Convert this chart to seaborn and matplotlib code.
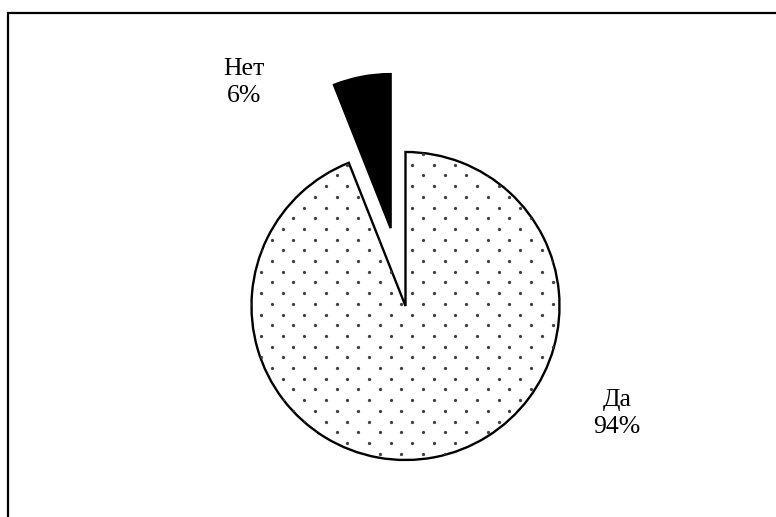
import numpy as np
import matplotlib
matplotlib.use("Agg")
import matplotlib.pyplot as plt
from matplotlib.patches import Rectangle
import seaborn as sns

# Survey answers and their shares (%)
categories = ["Да", "Нет"]
shares = [94, 6]
explode = [0.0, 0.515]
fills = ["white", "black"]

sns.set_theme(style="white")
plt.rcParams["font.family"] = ["Liberation Serif", "DejaVu Serif"]

W, H, DPI = 776, 517, 100
R = 154.0                 # pie radius in pixels
CX, CY = 405.5, 306.0     # pie centre in pixels (from top-left)

fig = plt.figure(figsize=(W / DPI, H / DPI), dpi=DPI, facecolor="white")
ax = fig.add_axes([0, 0, 1, 1])

wedges, _ = ax.pie(
    shares,
    explode=explode,
    colors=fills,
    startangle=90,
    counterclock=False,
    radius=1.0,
    wedgeprops=dict(edgecolor="black", linewidth=1.7),
)
ax.set_xlim(-CX / R, (W - CX) / R)
ax.set_ylim(-(H - CY) / R, CY / R)
ax.set_aspect("auto")
ax.axis("off")

# Staggered dot texture inside the "Да" slice
dx, dy = 21.6 / R, 10.7 / R
x0, y0 = 0.044, 0.9175
pts_x, pts_y = [], []
for k in range(-5, 40):
    off = (k % 2) * dx / 2
    for j in range(-12, 12):
        pts_x.append(x0 + j * dx + off)
        pts_y.append(y0 - k * dy)
dots = ax.scatter(pts_x, pts_y, s=5.5, color="#404040", linewidths=0, zorder=3)
dots.set_clip_path(wedges[0])

# Category labels with percentages
label_pos = {"Нет": (-1.049, 1.45), "Да": (1.373, -0.70)}
total = sum(shares)
for cat, val in zip(categories, shares):
    px, py = label_pos[cat]
    ax.text(px, py, f"{cat}\n{round(100 * val / total)}%", ha="center", va="center",
            fontsize=18.5, color="black", linespacing=1.3)

# Chart area border
fig.add_artist(Rectangle((8 / W, -0.05), 1.1, (H - 13) / H + 0.05,
                         transform=fig.transFigure, fill=False,
                         edgecolor="black", linewidth=1.6, clip_on=False))

fig.savefig("out.png", dpi=DPI, facecolor="white")
